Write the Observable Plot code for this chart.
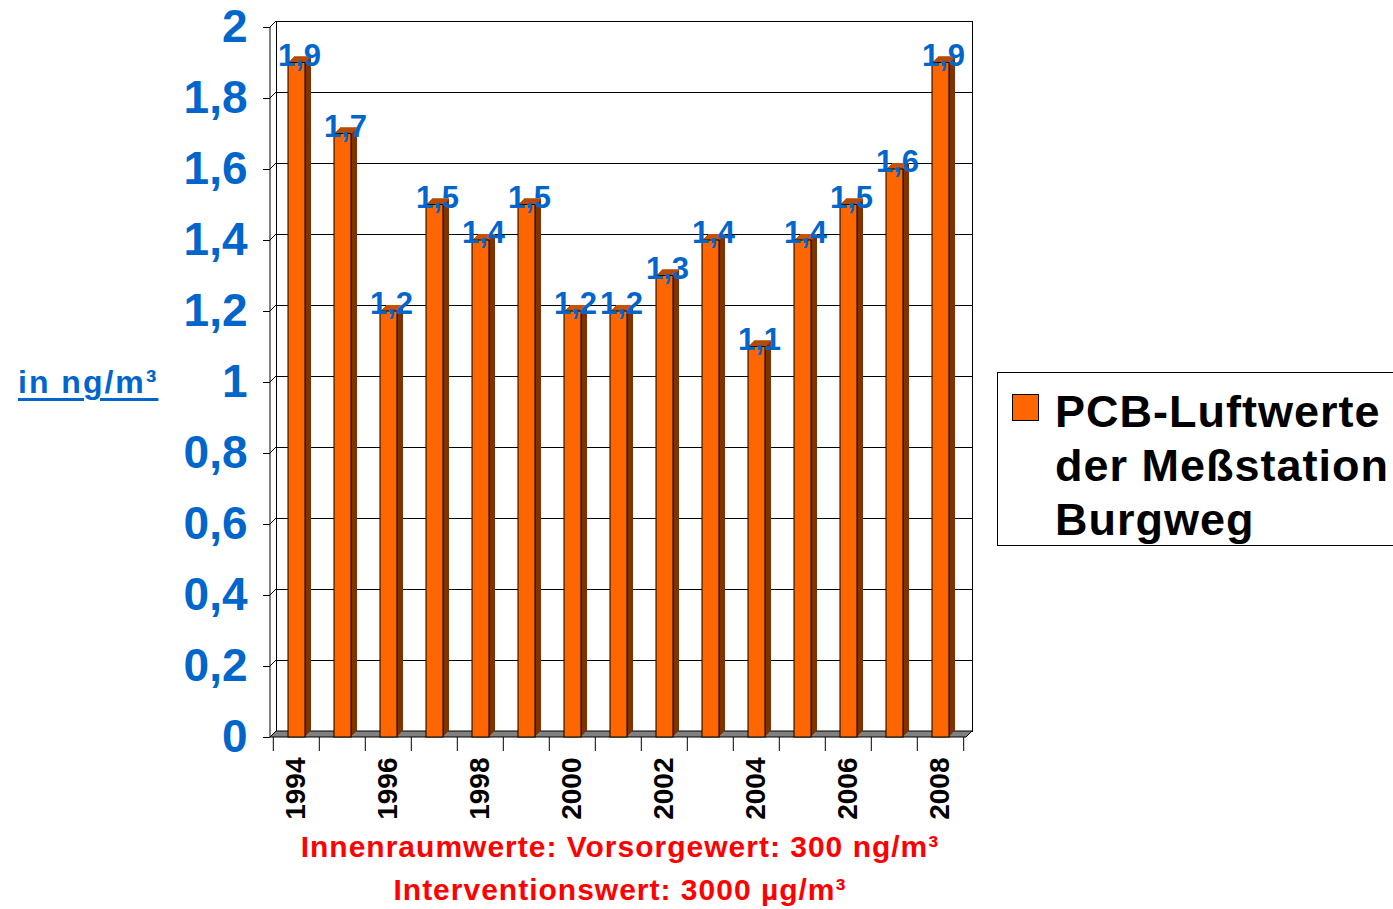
<!DOCTYPE html>
<html><head><meta charset="utf-8">
<script src="https://cdn.jsdelivr.net/npm/d3@7"></script>
<script src="https://cdn.jsdelivr.net/npm/@observablehq/plot@0.6"></script>
<style>
body{margin:0;background:#fff;font-family:"Liberation Sans",Arial,sans-serif;}
#wrap{position:relative;width:1393px;height:909px;overflow:hidden;background:#fff}
#chart{position:absolute;left:0;top:0}
#ylab{position:absolute;left:18px;top:366px;font:bold 32px "Liberation Sans",Arial,sans-serif;line-height:32px;letter-spacing:2px;color:#0066cc;text-decoration:underline;text-decoration-thickness:3px;text-underline-offset:5px;white-space:nowrap}
#legend{position:absolute;left:997px;top:372px;width:420px;height:172px;border:1.5px solid #000;background:#fff}
#legend .sw{position:absolute;left:14px;top:21px;width:27px;height:27px;background:#ff6600;border:1px solid #000;box-sizing:border-box}
#legend .tx{position:absolute;left:57px;top:12px;font:bold 45px "Liberation Sans",Arial,sans-serif;line-height:54px;letter-spacing:1px;color:#000;white-space:nowrap}
#caption{position:absolute;left:0;top:825px;width:1240px;text-align:center;font:bold 30px "Liberation Sans",Arial,sans-serif;line-height:43px;letter-spacing:1px;color:#ff0000}
</style>
</head><body>
<div id="wrap">
  <div id="chart"></div>
  <div id="ylab">in ng/m³</div>
  <div id="legend"><div class="sw"></div><div class="tx" id="legtext"></div></div>
  <div id="caption"></div>
</div>
<script>
// ---- data ----
const years = ["1994","1995","1996","1997","1998","1999","2000","2001","2002","2003","2004","2005","2006","2007","2008"];
const values = [1.9, 1.7, 1.2, 1.5, 1.4, 1.5, 1.2, 1.2, 1.3, 1.4, 1.1, 1.4, 1.5, 1.6, 1.9];
const labelYears = ["1994","1996","1998","2000","2002","2004","2006","2008"];
const yTicks = [0, 0.2, 0.4, 0.6, 0.8, 1, 1.2, 1.4, 1.6, 1.8, 2];
const seriesName = ["PCB-Luftwerte", "der Meßstation", "Burgweg"];
const captionLines = ["Innenraumwerte: Vorsorgewert: 300 ng/m³", "Interventionswert: 3000 µg/m³"];

const data = years.map((y, i) => ({year: y, value: values[i]}));
const fmt = d => String(d).replace(".", ",");

// ---- layout ----
const W = 980, H = 830, ML = 270, MR = 14, MT = 27, MB = 93;
const step = (W - ML - MR) / years.length;
const depth = 6;
const FRONT = "#ff6600", SIDE = "#7f3300", TOP = "#c85200", BLUE = "#0066cc";
const insetL = 15, insetR = step - 32.4;

// 3D wall decorations (floor + left side wall) drawn with the plot's scales
function walls(index, scales, values, dim) {
  const g = d3.create("svg:g");
  const y = scales.y;
  const x0 = dim.marginLeft, x1 = dim.width - dim.marginRight;
  const y0 = y(0);
  g.append("path")
    .attr("d", `M${x0},${y0}L${x1},${y0}L${x1+depth},${y0-depth}L${x0+depth},${y0-depth}Z`)
    .attr("fill", "#808080").attr("stroke", "#000").attr("stroke-width", 1);
  for (const t of yTicks) {
    g.append("line").attr("x1", x0).attr("y1", y(t)).attr("x2", x0 + depth).attr("y2", y(t) - depth)
      .attr("stroke", "#000").attr("stroke-width", 1);
  }
  g.append("line").attr("x1", x0).attr("y1", y(0)).attr("x2", x0).attr("y2", y(2))
    .attr("stroke", "#000").attr("stroke-width", 1);
  return g.node();
}

const sideMarks = [];
for (let i = depth; i >= 1; i--) {
  sideMarks.push(Plot.barY(data, {x: "year", y: "value", fill: SIDE, insetLeft: insetL, insetRight: insetR, dx: i, dy: -i}));
}
const topMarks = [];
for (let i = 1; i <= depth; i++) {
  topMarks.push(Plot.tickY(data, {x: "year", y: "value", stroke: TOP, strokeWidth: 1, insetLeft: insetL, insetRight: insetR, dx: i, dy: -i}));
}

const chart = Plot.plot({
  width: W, height: H,
  marginLeft: ML, marginRight: MR, marginTop: MT, marginBottom: MB,
  style: {fontFamily: "'Liberation Sans', Arial, sans-serif", background: "white", overflow: "visible"},
  x: {domain: years, type: "band", padding: 0, axis: null},
  y: {domain: [0, 2], axis: null},
  marks: [
    Plot.frame({dx: depth, dy: -depth, stroke: "#000", strokeWidth: 1}),
    Plot.ruleY(yTicks, {dx: depth, dy: -depth, stroke: "#000", strokeWidth: 1}),
    walls,
    ...sideMarks,
    ...topMarks,
    Plot.barY(data, {x: "year", y: "value", fill: FRONT, stroke: "#000", strokeWidth: 1, insetLeft: insetL, insetRight: insetR}),
    Plot.text(data, {x: "year", y: "value", text: d => fmt(d.value), dx: 3, dy: -7, fill: BLUE, fontSize: 31, fontWeight: "bold"}),
    Plot.axisY(yTicks, {tickSize: 7, tickPadding: 16, tickFormat: fmt, fontSize: 46, fontWeight: "bold", fill: BLUE, stroke: "#000", label: null}),
    Plot.axisX(years, {tickSize: 14, tickFormat: () => "", dx: -step / 2, stroke: "#000", label: null}),
    Plot.axisX(["2008"], {tickSize: 14, tickFormat: () => "", dx: step / 2, stroke: "#000", label: null}),
    Plot.axisX(labelYears, {tickSize: 0, tickPadding: 20, tickRotate: -90, fontSize: 28, fontWeight: "bold", fill: "#000", label: null})
  ]
});
document.getElementById("chart").appendChild(chart);
document.getElementById("legtext").innerHTML = seriesName.join("<br>");
document.getElementById("caption").innerHTML = captionLines.join("<br>");
</script>
</body></html>
